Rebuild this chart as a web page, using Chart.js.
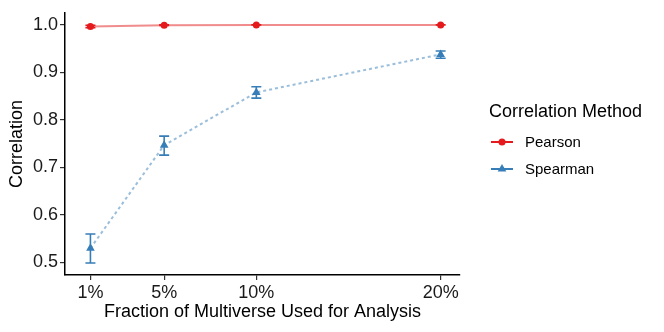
<!DOCTYPE html>
<html lang="en">
<head>
  <meta charset="UTF-8">
  <title>Correlation vs fraction of multiverse</title>
  <script src="https://cdn.jsdelivr.net/npm/chart.js"></script>
  <style>
    body { margin: 0; background: #fff; }
  </style>
</head>
<body>
  <canvas id="myChart" width="664" height="332"></canvas>

  <script>
    // data
    const xValues = [1, 5, 10, 20];
    const xLabels = ['1%', '5%', '10%', '20%'];
    const yTicks = [0.5, 0.6, 0.7, 0.8, 0.9, 1.0];

    const pearson = [0.9965, 0.9995, 1.0, 1.0];
    const pearsonLow = [0.994, 0.999, 0.9997, 0.9998];
    const pearsonHigh = [0.999, 1.0, 1.0003, 1.0002];

    const spearman = [0.530, 0.747, 0.858, 0.938];
    const spearmanLow = [0.499, 0.726, 0.846, 0.930];
    const spearmanHigh = [0.560, 0.766, 0.870, 0.945];

    const seriesNames = ['Pearson', 'Spearman'];
    const red = '#E41A1C';
    const blue = '#377EB8';
    const font = '"Liberation Sans", Arial, sans-serif';

    const errorBars = {
      id: 'errorBars',
      afterDatasetsDraw(chart) {
        const ctx = chart.ctx;
        const xs = chart.scales.x;
        const ys = chart.scales.y;
        chart.data.datasets.forEach(ds => {
          ctx.save();
          ctx.strokeStyle = ds.pointBackgroundColor;
          ctx.lineWidth = 1.6;
          ds.data.forEach((p, i) => {
            const x = xs.getPixelForValue(p.x);
            const y1 = ys.getPixelForValue(ds.low[i]);
            const y2 = ys.getPixelForValue(ds.high[i]);
            ctx.beginPath();
            ctx.moveTo(x, y1); ctx.lineTo(x, y2);
            ctx.moveTo(x - 5, y1); ctx.lineTo(x + 5, y1);
            ctx.moveTo(x - 5, y2); ctx.lineTo(x + 5, y2);
            ctx.stroke();
          });
          ctx.restore();
        });
      }
    };

    const legendBox = {
      id: 'legendBox',
      afterDraw(chart) {
        const ctx = chart.ctx;
        ctx.save();
        ctx.fillStyle = '#000';
        ctx.textBaseline = 'middle';
        ctx.textAlign = 'left';
        ctx.font = '18px ' + font;
        ctx.fillText('Correlation Method', 489, 112);
        ctx.font = '15px ' + font;
        chart.data.datasets.forEach((ds, i) => {
          const y = 142 + i * 27;
          ctx.strokeStyle = ds.pointBackgroundColor;
          ctx.fillStyle = ds.pointBackgroundColor;
          ctx.lineWidth = 2;
          ctx.beginPath();
          ctx.moveTo(491, y); ctx.lineTo(513, y);
          ctx.stroke();
          Chart.helpers.drawPoint(ctx, {pointStyle: ds.pointStyle, radius: ds.pointRadius, borderWidth: 0}, 502, y);
          ctx.fillStyle = '#000';
          ctx.fillText(seriesNames[i], 525, y + 1);
        });
        ctx.restore();
      }
    };

    const ctx = document.getElementById('myChart').getContext('2d');
    const myChart = new Chart(ctx, {
      type: 'line',
      data: {
        datasets: [
          {
            label: seriesNames[0],
            data: xValues.map((x, i) => ({x: x, y: pearson[i]})),
            low: pearsonLow,
            high: pearsonHigh,
            borderColor: 'rgba(228, 26, 28, 0.5)',
            borderWidth: 2,
            pointStyle: 'circle',
            pointRadius: 3.5,
            pointBorderWidth: 0,
            pointBackgroundColor: red,
            tension: 0
          },
          {
            label: seriesNames[1],
            data: xValues.map((x, i) => ({x: x, y: spearman[i]})),
            low: spearmanLow,
            high: spearmanHigh,
            borderColor: 'rgba(55, 126, 184, 0.5)',
            borderWidth: 2,
            borderDash: [3, 3],
            pointStyle: 'triangle',
            pointRadius: 5,
            pointBorderWidth: 0,
            pointBackgroundColor: blue,
            tension: 0
          }
        ]
      },
      options: {
        responsive: false,
        animation: false,
        layout: { padding: { left: 6, top: 6, right: 204, bottom: 0 } },
        plugins: {
          legend: { display: false },
          tooltip: { enabled: false }
        },
        scales: {
          x: {
            type: 'linear',
            min: -0.38,
            max: 21.05,
            afterBuildTicks: s => { s.ticks = xValues.map(v => ({value: v})); },
            afterFit: s => { s.height = 57; },
            ticks: {
              callback: (v) => xLabels[xValues.indexOf(v)],
              color: '#1a1a1a',
              font: { family: font, size: 18 },
              padding: 2,
              maxRotation: 0
            },
            grid: { drawOnChartArea: false, color: '#333', tickLength: 5, lineWidth: 1.2 },
            border: { display: true, color: '#000', width: 1.5 },
            title: {
              display: true,
              text: 'Fraction of Multiverse Used for Analysis',
              color: '#000',
              font: { family: font, size: 18 },
              padding: { top: 0, bottom: 9 }
            }
          },
          y: {
            min: 0.4737,
            max: 1.0255,
            afterBuildTicks: s => { s.ticks = yTicks.map(v => ({value: v})); },
            afterFit: s => { s.width = 59; },
            ticks: {
              callback: v => v.toFixed(1),
              color: '#1a1a1a',
              font: { family: font, size: 18 },
              padding: 2
            },
            grid: { drawOnChartArea: false, color: '#333', tickLength: 5, lineWidth: 1.2 },
            border: { display: true, color: '#000', width: 1.5 },
            title: {
              display: true,
              text: 'Correlation',
              color: '#000',
              font: { family: font, size: 18 },
              padding: { top: 0, bottom: 0 }
            }
          }
        }
      },
      plugins: [errorBars, legendBox]
    });
  </script>
</body>
</html>
